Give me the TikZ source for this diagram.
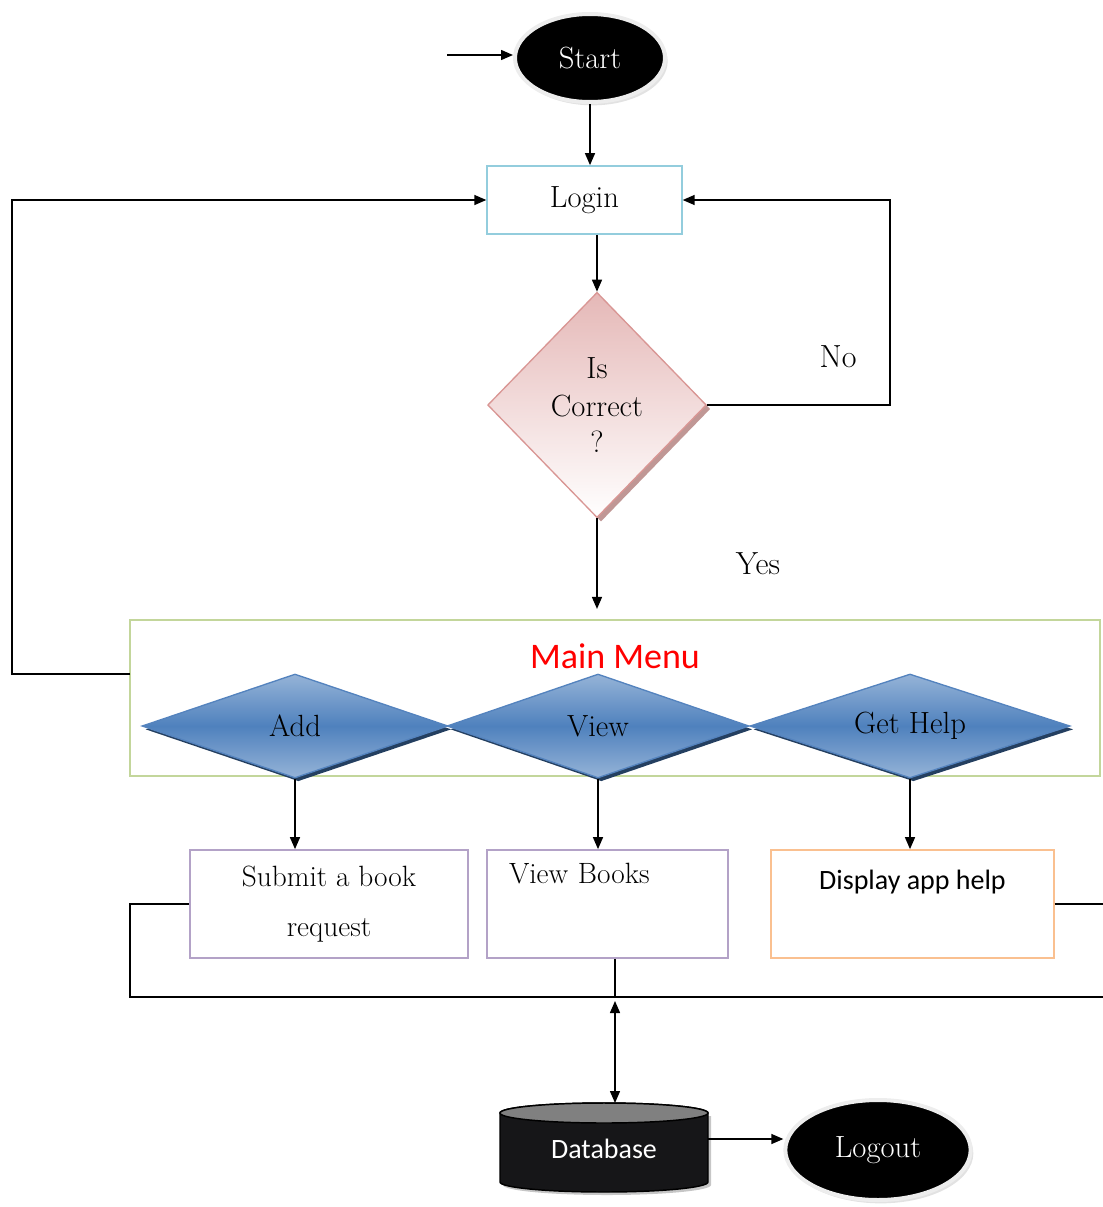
\documentclass[tikz,border=0pt]{standalone}
\usepackage{fontspec}
\newfontfamily\calibrifont{Carlito}
\usetikzlibrary{shapes.geometric,shadows,arrows.meta}
\definecolor{loginblue}{RGB}{147,205,221}
\definecolor{pinkedge}{RGB}{217,150,148}
\definecolor{pinktop}{RGB}{229,184,183}
\definecolor{pinkshadow}{RGB}{185,140,138}
\definecolor{menugreen}{RGB}{195,214,155}
\definecolor{bluemid}{RGB}{79,129,189}
\definecolor{bluelight}{RGB}{149,179,215}
\definecolor{blueedge}{RGB}{84,131,190}
\definecolor{blueshadow}{RGB}{36,63,96}
\definecolor{lavender}{RGB}{179,162,199}
\definecolor{helporange}{RGB}{250,192,144}
\definecolor{dbbody}{RGB}{22,22,24}
\definecolor{dbcap}{RGB}{128,128,128}

\begin{document}
\begin{tikzpicture}[x=0.75pt,y=0.75pt,yscale=-1,xscale=1,
  serif/.style={font=\fontsize{23}{27}\selectfont},
  conn/.style={line width=1.1pt},
  arr/.style={conn,-{Triangle[length=9pt,width=7.5pt]}},
  terminal/.style={ellipse,fill=black,draw=white!86!gray,line width=3pt,text=white,inner sep=0pt,serif,
    drop shadow={shadow xshift=2pt,shadow yshift=-2.5pt,fill=gray!45}},
  procbox/.style={rectangle,draw,line width=1.3pt,fill=white,inner sep=0pt,serif},
  decide/.style={diamond,draw=pinkedge,line width=1pt,top color=pinktop,bottom color=white,inner sep=0pt,
    minimum width=164pt,minimum height=169pt,align=center,serif,
    drop shadow={shadow xshift=3pt,shadow yshift=-3pt,fill=pinkshadow,opacity=0.9}},
  choice/.style={diamond,aspect=3,draw=blueedge,line width=1pt,top color=bluelight,bottom color=bluelight,middle color=bluemid,
    inner sep=0pt,minimum width=229.5pt,minimum height=78pt,serif,
    drop shadow={shadow xshift=2.5pt,shadow yshift=-2.5pt,fill=blueshadow,opacity=1}}
]
\useasboundingbox (0,0) rectangle (1103,1207);
%Start and login
\node [terminal,minimum width=112.5pt,minimum height=66pt] (start) at (590,58) {Start};
\coordinate (in) at (447,55);
\node [procbox,draw=loginblue,minimum width=146pt,minimum height=51pt] (login) at (584.5,200) {Login};
%Shape: Diamond
\node [decide] (check) at (597,405) {Is\\[1pt]Correct\\[0pt]?};
% Text Node
\node [font=\fontsize{24}{28}\selectfont] (nolabel) at (838,357) {No};
% Text Node
\node [font=\fontsize{24}{28}\selectfont] (yeslabel) at (758,564) {Yes};
%Main menu
\node [rectangle,draw=menugreen,line width=1.6pt,minimum width=727.5pt,minimum height=117pt] (menu) at (615,698) {};
\node [text=red,font=\calibrifont\fontsize{27}{30}\selectfont] (menutitle) at (615,656) {Main Menu};
\coordinate (leftout) at (130,674);
\node [choice] (add) at (295,726) {Add};
\node [choice,minimum width=226.5pt] (view) at (598,726) {View};
\node [choice,minimum width=240pt] (help) at (910,726) {Get Help};
%Result boxes
\node [procbox,draw=lavender,minimum width=208.5pt,minimum height=81pt,align=center,font=\fontsize{22}{26}\selectfont] (submit) at (329,904) {Submit a book\\[12pt]request};
\node [procbox,draw=lavender,minimum height=81pt,text width=147.75pt,inner xsep=16.5pt,align=left,font=\fontsize{22}{26}\selectfont] (books) at (607.5,904) {View Books\\[20pt]~};
\node [procbox,draw=helporange,minimum width=212pt,minimum height=81pt,align=center,font=\calibrifont\fontsize{21}{25}\selectfont] (display) at (912.5,904) {Display app help\\[12pt]~};
\coordinate (tap) at (615,997);
\coordinate (busend) at (1103,997);
%Shape: Cylinder
\fill [gray!45] (503,1116) -- (503,1185) arc[start angle=180,end angle=0,x radius=104,y radius=10] -- (711,1116) -- cycle;
\draw [line width=1.1pt,fill=dbbody]
  (500,1113) -- (500,1182) arc[start angle=180,end angle=0,x radius=104,y radius=10] -- (708,1113)
  arc[start angle=0,end angle=-180,x radius=104,y radius=10] -- cycle;
\draw [line width=1.1pt,fill=dbcap] (604,1113) ellipse[x radius=104,y radius=10];
\node [text=white,font=\calibrifont\fontsize{21}{25}\selectfont] (db) at (604,1149) {Database};
\coordinate (dbtop) at (615,1103);
\coordinate (dbright) at (708,1139);
\node [terminal,minimum width=139pt,minimum height=75pt] (logout) at (878,1150) {Logout};
%Connectors
\draw [arr] (in) -- (in -| start.west);
\draw [arr] (start.south) -- (start.south |- login.north);
\draw [arr] (check.north |- login.south) -- (check.north);
\draw [arr] (check.east) -- ++(183,0) |- (login.east);
\draw [arr,shorten >=7.5pt] (check.south) -- (check.south |- menu.north);
\draw [arr] (leftout) -- ++(-118,0) |- (login.west);
\draw [arr] (add.south) -- (add.south |- submit.north);
\draw [arr] (view.south) -- (view.south |- books.north);
\draw [arr] (help.south) -- (help.south |- display.north);
\draw [conn] (submit.west) -- ++(-59,0) |- (busend);
\draw [conn] (display.east) -- (display.east -| busend);
\draw [conn] (tap |- books.south) -- (tap);
\draw [conn,{Triangle[length=9pt,width=7.5pt]}-{Triangle[length=9pt,width=7.5pt]},shorten <=3pt] (tap) -- (dbtop);
\draw [arr] (dbright) -- (dbright -| logout.west);
\end{tikzpicture}
\end{document}
